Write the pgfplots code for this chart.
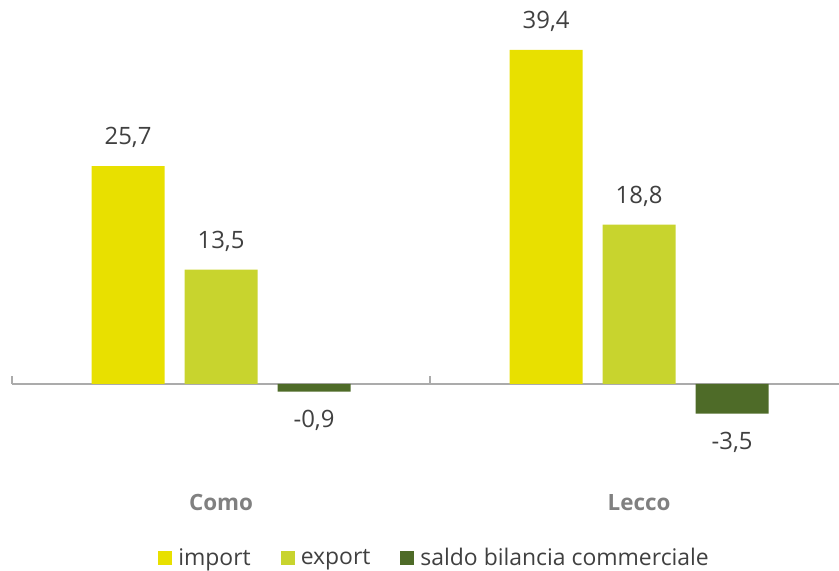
\documentclass[border=0pt]{standalone}
\usepackage{pgfplots}
\pgfplotsset{compat=1.18}
\usepackage{fontspec}
\setmainfont{Open Sans}
\definecolor{cimp}{HTML}{E8E000}
\definecolor{cexp}{HTML}{C8D42E}
\definecolor{csal}{HTML}{4E6B28}
\definecolor{ctxt}{HTML}{404040}
\definecolor{caxis}{HTML}{ABABAB}
\definecolor{ccat}{HTML}{808080}
\begin{document}
\begin{tikzpicture}
\begin{axis}[
  scale only axis,
  width=827bp, height=571bp,
  xmin=-0.5, xmax=1.478,
  ymin=-22.05, ymax=45.28,
  clip=false,
  axis y line=none,
  axis x line*=middle,
  x axis line style={caxis, line width=1.5bp},
  ybar=20bp,
  bar width=73bp,
  xtick={0,1},
  xticklabels={Como,Lecco},
  major tick length=0pt,
  xticklabel style={font=\fontsize{22.5}{26}\selectfont\bfseries, text=ccat, yshift=-107bp},
  extra x ticks={-0.5,0.5,1.5},
  extra x tick labels={},
  extra x tick style={major tick length=8bp, tick align=inside, tick style={caxis, line width=1.5bp}},
  /pgf/number format/assume math mode=true,
  visualization depends on={rawy \as \rawy},
  nodes near coords={\pgfmathprintnumber[fixed, fixed zerofill, precision=1, use comma]{\pgfplotspointmeta}},
  every node near coord/.append style={font=\fontsize{24}{28}\selectfont, text=ctxt, anchor=center, yshift={((\rawy>0)*2-1)*28.5}},
  legend style={at={(rel axis cs:0.511,0.023)}, anchor=center, draw=none, legend columns=3,
    font=\fontsize{23}{26}\selectfont, text=ctxt,
    /tikz/every odd column/.append style={column sep=4bp},
    /tikz/every even column/.append style={column sep=28bp}},
  legend image code/.code={\fill[#1] (0bp,-7bp) rectangle (14bp,7bp);},
]
\addplot[fill=cimp, draw=none] coordinates {(0,25.7) (1,39.4)};
\addplot[fill=cexp, draw=none] coordinates {(0,13.5) (1,18.8)};
\addplot[fill=csal, draw=none] coordinates {(0,-0.9) (1,-3.5)};
\legend{import,export,saldo bilancia commerciale}
\end{axis}
\pgfresetboundingbox
\path ([xshift=-12bp]current axis.south west) rectangle (current axis.north east);
\end{tikzpicture}
\end{document}
